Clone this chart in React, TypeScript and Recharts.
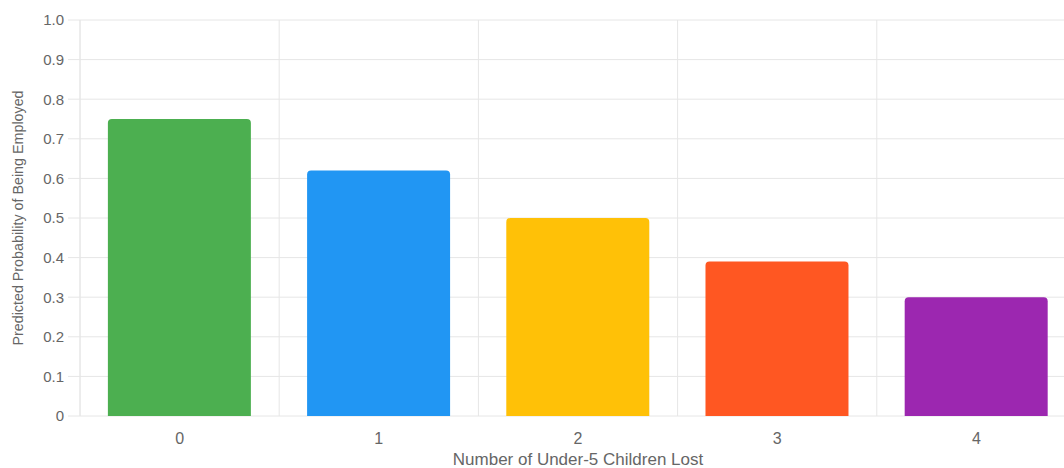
import React from "react";
import {
  BarChart,
  Bar,
  Cell,
  CartesianGrid,
  XAxis,
  YAxis,
} from "recharts";

const childrenLost = ["0", "1", "2", "3", "4"];
const probEmployed = [0.75, 0.62, 0.5, 0.39, 0.3];
const barColors = ["#4CAF50", "#2196F3", "#FFC107", "#FF5722", "#9C27B0"];
const yTicks = [0, 0.1, 0.2, 0.3, 0.4, 0.5, 0.6, 0.7, 0.8, 0.9, 1.0];
const boundaryTicks = [0, 1, 2, 3, 4, 5];

const data = childrenLost.map((name, i) => ({
  name,
  value: probEmployed[i],
  slot: i + 0.5,
}));

const FONT = "'Liberation Sans', Arial, Helvetica, sans-serif";
const TEXT = "#666";
const GRID = "#e6e6e6";

const YLabel = (props: any) => {
  const vb = props.viewBox || {};
  const cx = 18;
  const cy = vb.y + vb.height / 2;
  return (
    <text
      x={cx}
      y={cy}
      transform={`rotate(-90, ${cx}, ${cy})`}
      textAnchor="middle"
      dominantBaseline="central"
      fill={TEXT}
      fontSize={14.3}
      fontFamily={FONT}
    >
      Predicted Probability of Being Employed
    </text>
  );
};

const XLabel = (props: any) => {
  const vb = props.viewBox || {};
  return (
    <text
      x={vb.x + vb.width / 2}
      y={459}
      textAnchor="middle"
      dominantBaseline="central"
      fill={TEXT}
      fontSize={17}
      fontFamily={FONT}
    >
      Number of Under-5 Children Lost
    </text>
  );
};

const App = () => {
  return (
    <div
      style={{
        position: "absolute",
        left: 0,
        top: 0,
        width: 1064,
        height: 468,
        overflow: "hidden",
        background: "#fff",
      }}
    >
      <BarChart
        width={1090}
        height={468}
        data={data}
        margin={{ top: 20, right: 14, bottom: 0, left: 0 }}
        barCategoryGap="14%"
      >
        {/* grid lines sit on category boundaries, not centers */}
        <CartesianGrid
          stroke={GRID}
          verticalCoordinatesGenerator={({ offset }: any) =>
            boundaryTicks.map((t) => offset.left + (t * offset.width) / 5)
          }
        />
        <XAxis
          xAxisId="bounds"
          type="number"
          dataKey="slot"
          domain={[0, 5]}
          ticks={boundaryTicks}
          height={0}
          axisLine={{ stroke: GRID }}
          tickLine={{ stroke: GRID }}
          tickSize={10}
          tick={() => <g />}
        />
        <XAxis
          dataKey="name"
          height={52}
          axisLine={false}
          tickLine={false}
          tickMargin={11}
          tick={{ fill: TEXT, fontSize: 16, fontFamily: FONT }}
          label={<XLabel />}
        />
        <YAxis
          width={80}
          domain={[0, 1]}
          ticks={yTicks}
          interval={0}
          tickFormatter={(v: number) => (v === 0 ? "0" : v.toFixed(1))}
          axisLine={{ stroke: GRID }}
          tickLine={{ stroke: GRID }}
          tickSize={12}
          tickMargin={4}
          tick={{ fill: TEXT, fontSize: 15, fontFamily: FONT }}
          label={<YLabel />}
        />
        <Bar dataKey="value" radius={[4, 4, 0, 0]} isAnimationActive={false}>
          {data.map((d, i) => (
            <Cell key={d.name} fill={barColors[i]} />
          ))}
        </Bar>
      </BarChart>
    </div>
  );
};

export default App;
